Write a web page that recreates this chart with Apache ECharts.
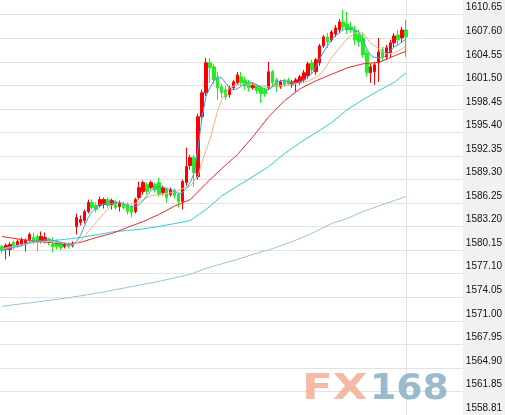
<!DOCTYPE html>
<html><head><meta charset="utf-8">
<script src="https://cdn.jsdelivr.net/npm/echarts@6/dist/echarts.min.js"></script>
<style>html,body{margin:0;padding:0;background:#fff}#c{width:505px;height:415px}</style>
</head><body><div id="c"></div>
<script>
// ---- data ----
const slotCount = 118; // 104 bars + empty room up to the price scale
const categories = Array.from({length: slotCount}, (_, i) => String(i));

const opens = [1580.63,1580.24,1580.24,1581.15,1580.76,1580.89,1581.02,1581.54,1581.79,1581.92,
1581.28,1581.41,1581.54,1580.89,1581.15,1581.02,1580.63,1580.89,1580.76,1583.22,
1583.73,1583.99,1585.15,1586.32,1585.93,1585.93,1586.06,1586.70,1586.06,1586.44,
1585.80,1586.19,1586.06,1585.80,1585.15,1586.96,1587.74,1588.64,1588.25,1588.64,
1588.90,1587.61,1588.00,1587.35,1587.87,1587.35,1586.44,1588.90,1591.10,1592.13,
1589.68,1597.43,1600.53,1604.41,1603.89,1602.47,1601.31,1600.92,1600.27,1601.18,
1601.82,1602.60,1602.21,1601.82,1601.18,1601.44,1601.18,1600.92,1601.18,1603.25,
1602.21,1601.31,1602.08,1602.21,1601.57,1601.82,1601.82,1602.21,1602.73,1604.41,
1603.25,1604.41,1606.61,1607.77,1607.38,1608.16,1608.67,1609.71,1609.45,1609.06,
1608.67,1608.03,1607.64,1605.70,1603.12,1603.25,1604.41,1606.09,1605.18,1605.70,
1607.00,1608.03,1607.64,1608.67];
const closes = [1580.11,1580.76,1580.89,1580.63,1581.28,1581.54,1581.41,1582.18,1581.15,1581.28,
1581.92,1581.79,1581.15,1580.63,1580.63,1580.50,1580.89,1580.63,1581.02,1584.38,
1584.12,1585.15,1586.32,1585.67,1585.41,1586.70,1586.70,1585.93,1586.57,1585.67,
1586.32,1585.67,1585.15,1585.02,1586.70,1588.25,1588.90,1587.74,1588.90,1588.00,
1587.35,1588.25,1586.96,1588.00,1587.22,1586.44,1589.03,1590.97,1592.13,1590.19,
1597.43,1600.53,1604.41,1603.76,1602.21,1601.18,1600.53,1600.01,1601.18,1601.95,
1602.86,1601.82,1601.44,1601.18,1601.57,1600.79,1600.40,1600.40,1603.25,1601.82,
1601.31,1601.95,1601.57,1601.69,1601.95,1602.21,1602.60,1603.12,1604.28,1603.50,
1604.80,1606.61,1607.77,1607.12,1608.41,1608.93,1609.71,1609.06,1608.67,1608.67,
1607.38,1607.12,1605.44,1603.12,1603.89,1604.15,1605.83,1605.18,1606.35,1607.00,
1607.90,1607.38,1608.67,1607.77];
const lows = [1579.73,1578.95,1579.34,1580.24,1580.50,1580.63,1579.98,1581.28,1580.89,1579.98,
1581.02,1581.02,1580.76,1579.85,1580.24,1580.11,1580.37,1580.37,1580.50,1582.18,
1583.34,1583.60,1584.89,1585.41,1585.02,1585.67,1585.54,1585.67,1585.41,1585.41,
1585.15,1585.41,1584.77,1584.38,1584.89,1586.70,1587.35,1587.35,1588.00,1587.61,
1587.09,1587.22,1586.32,1587.09,1586.83,1585.67,1585.41,1588.51,1590.58,1588.38,
1589.29,1597.04,1600.14,1601.82,1601.69,1599.63,1599.89,1599.63,1599.89,1600.92,
1601.57,1601.44,1600.92,1600.66,1600.92,1600.40,1599.24,1600.01,1600.92,1601.31,
1600.66,1601.05,1601.31,1601.44,1601.18,1600.66,1601.57,1601.82,1602.34,1602.99,
1602.86,1604.02,1606.35,1606.35,1607.12,1607.77,1608.29,1608.67,1608.16,1608.29,
1606.73,1606.48,1605.06,1602.60,1601.82,1601.57,1601.95,1604.54,1604.80,1605.06,
1606.35,1606.73,1607.00,1605.18];
const highs = [1580.89,1581.02,1581.15,1581.41,1581.54,1581.79,1581.66,1582.44,1582.44,1582.18,
1582.57,1582.44,1581.79,1581.79,1581.54,1581.28,1581.15,1581.15,1581.28,1584.89,
1584.64,1585.41,1586.70,1586.70,1586.32,1587.09,1586.96,1586.96,1586.83,1586.70,
1586.57,1586.44,1586.32,1586.06,1586.96,1589.03,1589.16,1588.90,1589.16,1588.90,
1589.55,1588.51,1588.25,1588.25,1588.13,1587.61,1589.29,1593.42,1592.52,1592.52,
1597.82,1600.92,1605.06,1605.06,1604.28,1603.25,1601.69,1601.44,1601.44,1602.21,
1603.25,1603.25,1602.60,1602.21,1601.82,1601.69,1601.44,1601.18,1604.54,1603.50,
1602.47,1602.21,1602.34,1602.47,1602.21,1602.47,1602.86,1603.50,1604.54,1604.80,
1605.06,1606.86,1608.03,1608.29,1608.67,1609.32,1610.10,1611.26,1611.00,1609.71,
1609.19,1608.67,1608.29,1606.09,1604.28,1604.54,1607.64,1606.48,1606.73,1607.38,
1608.29,1608.67,1609.06,1609.97];

const ma5 = [1580.11,1580.24,1580.37,1580.50,1580.63,1580.76,1580.89,1581.15,1581.28,1581.34,
1581.41,1581.47,1581.54,1581.41,1581.28,1581.15,1581.02,1580.89,1580.76,1581.28,
1582.05,1583.22,1584.38,1585.15,1585.67,1586.06,1586.12,1586.19,1586.19,1586.25,
1586.32,1586.12,1585.93,1585.80,1585.80,1586.06,1586.57,1587.22,1587.87,1588.19,
1588.38,1588.25,1588.13,1588.00,1587.80,1587.48,1587.61,1588.13,1588.90,1590.19,
1593.42,1597.30,1600.01,1601.18,1602.08,1602.60,1602.47,1601.82,1601.18,1600.92,
1601.05,1601.37,1601.69,1601.95,1601.82,1601.57,1601.24,1601.05,1600.92,1601.31,
1601.95,1602.08,1602.15,1601.95,1601.82,1601.82,1601.95,1602.21,1602.60,1602.99,
1603.89,1604.93,1605.83,1606.61,1607.38,1607.90,1608.29,1608.67,1608.93,1608.87,
1608.67,1608.35,1607.51,1606.22,1605.38,1605.12,1605.06,1605.06,1605.44,1605.96,
1606.48,1606.73,1607.12,1607.51];
const ma10 = [1580.24,null,1580.50,null,1580.76,null,1580.95,null,1581.15,null,
1581.21,null,1581.28,null,1581.15,null,1581.02,null,1580.89,null,
1581.28,null,1582.57,null,1583.73,null,1584.90,null,1585.93,null,
1586.32,null,1586.12,null,1586.19,null,1586.70,null,1587.22,null,
1587.35,null,1587.48,null,1587.67,null,1588.13,null,1588.45,null,
1589.80,1591.62,1593.04,1594.46,1596.40,1598.21,1599.63,null,1601.18,null,
1601.57,null,1601.69,null,1601.57,null,1601.44,null,1601.31,null,
1601.37,null,1601.50,null,1601.63,null,1601.82,null,1602.02,null,
1602.53,null,1603.37,null,1605.06,null,1606.35,null,1607.51,null,
1608.29,null,1608.29,null,1606.99,null,1606.22,null,1605.57,null,
1605.70,null,1606.22,1606.61];
const ma20 = [1581.92,null,null,null,1581.60,null,null,null,1581.34,null,null,null,
1581.15,null,null,null,1580.89,null,null,null,1581.15,null,null,null,
1581.79,null,null,null,1582.31,null,null,null,1583.09,null,null,null,
1583.86,null,null,null,1584.77,null,null,null,1585.86,null,null,null,
1586.70,null,null,null,1588.77,null,null,null,1590.71,null,null,null,
1592.52,null,null,null,1594.85,null,null,null,1597.43,null,null,null,
1599.50,null,null,null,1601.05,null,null,null,1602.08,null,null,null,
1602.92,null,null,null,1603.76,null,null,null,1604.28,null,null,null,
1604.47,null,null,null,1605.31,null,null,1605.90];
const ma60 = [1580.37,null,null,null,1580.76,null,null,null,1581.15,null,null,null,
1581.34,null,null,null,1581.54,null,null,null,1581.79,null,null,null,
1582.12,null,null,null,1582.50,null,null,null,1582.70,null,null,null,
1582.89,null,null,null,1583.22,null,null,null,1583.60,null,null,null,
1583.99,null,null,null,1585.41,null,null,null,1587.16,null,null,null,
1588.45,null,null,null,1589.68,null,null,null,1590.97,null,null,null,
1592.65,null,null,null,1594.07,null,null,null,1595.36,null,null,null,
1596.65,null,null,null,1598.34,null,null,null,1599.63,null,null,null,
1600.79,null,null,null,1601.89,null,null,1603.12];
const ma120 = [1572.88,null,null,null,1573.14,null,null,null,1573.39,null,null,null,
1573.65,null,null,null,1573.91,null,null,null,1574.23,null,null,null,
1574.56,null,null,null,1574.94,null,null,null,1575.33,null,null,null,
1575.72,null,null,null,1576.11,null,null,null,1576.56,null,null,null,
1577.01,null,null,null,1577.79,null,null,null,1578.37,null,null,null,
1578.95,null,null,null,1579.60,null,null,null,1580.18,null,null,null,
1580.89,null,null,null,1581.66,null,null,null,1582.57,null,null,null,
1583.60,null,null,null,1584.25,null,null,null,1585.15,null,null,null,
1585.86,null,null,null,1586.57,null,null,1587.09];

const yTickLabels = ['1610.65','1607.60','1604.55','1601.50','1598.45','1595.40','1592.35','1589.30',
'1586.25','1583.20','1580.15','1577.10','1574.05','1571.00','1567.95','1564.90','1561.85','1558.81'];
const yMin = 1558.8, yMax = 1612.55, yStep = 3.05;
const lastBar = categories[opens.length - 1];

// ---- chart ----
const chart = echarts.init(document.getElementById('c'), null, {renderer: 'canvas'});
const candleData = opens.map((o, i) => [o, closes[i], lows[i], highs[i]]);
function ma(data, color) {
  return {type: 'line', data: data, symbol: 'none', showSymbol: false, connectNulls: true,
    lineStyle: {color: color, width: 1}, itemStyle: {color: color}, silent: true, z: 3};
}
chart.setOption({
  animation: false,
  backgroundColor: '#ffffff',
  grid: {left: 0, right: 42, top: 0, height: 416, containLabel: false},
  xAxis: {type: 'category', data: categories, boundaryGap: true, show: false},
  yAxis: {
    type: 'value', position: 'right', min: yMin, max: yMax, interval: yStep, scale: true,
    axisLine: {show: false}, axisTick: {show: false},
    splitLine: {show: true, showMaxLine: false, lineStyle: {color: '#e2e2e2', width: 1}},
    axisLabel: {
      show: true, showMaxLabel: false, margin: 3, color: '#111', fontSize: 10,
      fontFamily: 'Liberation Sans, Arial, sans-serif', verticalAlign: 'bottom', lineHeight: 14,
      formatter: function (v) {
        let best = yTickLabels[0], d = Infinity;
        yTickLabels.forEach(t => { const e = Math.abs(parseFloat(t) - v); if (e < d) { d = e; best = t; } });
        return best;
      }
    }
  },
  graphic: [
    {type: 'rect', left: 463, top: 0, z: -10, silent: true, shape: {width: 42, height: 415}, style: {fill: '#f1f1f1'}},
    {type: 'text', x: 302, y: 390, scaleX: 1.25, z: 100, silent: true,
      style: {text: 'FX', x: 0, y: 0, fill: '#f4b29b', font: 'bold 36px "DejaVu Sans", sans-serif', textAlign: 'left', textVerticalAlign: 'middle', opacity: 0.9}},
    {type: 'text', x: 370, y: 390, scaleX: 1.05, z: 100, silent: true,
      style: {text: '168', x: 0, y: 0, fill: '#8fb2c8', font: 'bold 36px "DejaVu Sans", sans-serif', textAlign: 'left', textVerticalAlign: 'middle', opacity: 0.9}}
  ],
  series: [
    {
      type: 'candlestick', data: candleData, barWidth: 3, z: 2,
      itemStyle: {color: '#ff0000', color0: '#22ee22', borderColor: '#ff0000', borderColor0: '#22ee22', borderWidth: 1},
      markLine: {silent: true, symbol: ['none', 'none'], label: {show: false}, z: 1,
        lineStyle: {color: '#e2e2e2', width: 1, type: 'solid'},
        data: [{xAxis: lastBar}]}
    },
    ma(ma120, '#9cc4dc'),
    ma(ma60, '#2fcfd6'),
    ma(ma20, '#ee2a2a'),
    ma(ma10, '#f0b285'),
    ma(ma5, '#3f9cf0')
  ]
});
</script>
</body></html>
